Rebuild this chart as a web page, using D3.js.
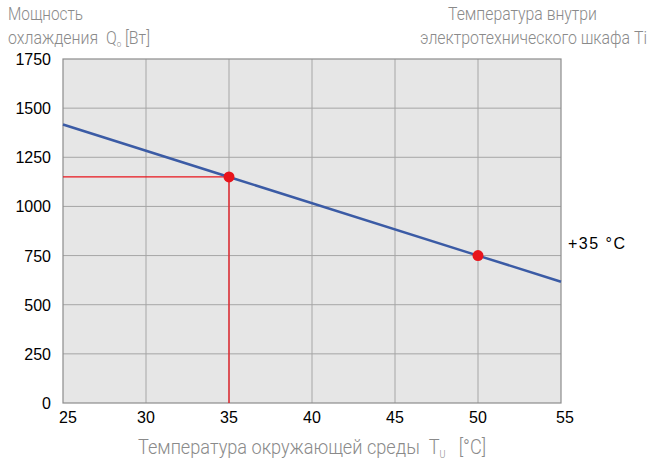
<!DOCTYPE html>
<html><head><meta charset="utf-8">
<script src="https://cdn.jsdelivr.net/npm/d3@7"></script>
<style>body{margin:0;background:#fff}svg{display:block}text{white-space:pre}</style>
</head><body>
<script>
const temps = [25, 35, 50, 55];
const power = [1417, 1150, 750, 617];
const markedT = [35, 50];
const markedP = [1150, 750];
const xTicks = [25, 30, 35, 40, 45, 50, 55];
const yTicks = [0, 250, 500, 750, 1000, 1250, 1500, 1750];
const seriesLabel = "+35 °C";

const W = 650, H = 466;
const m = {l: 63, r: 561, t: 59, b: 403};
const svg = d3.select("body").append("svg").attr("width", W).attr("height", H);
const x = d3.scaleLinear().domain([25, 55]).range([m.l, m.r]);
const y = d3.scaleLinear().domain([0, 1750]).range([m.b, m.t]);
const narrow = "Roboto,'Liberation Sans Narrow',sans-serif";
const reg = "'Liberation Sans',Arial,sans-serif";

svg.append("rect").attr("x", m.l).attr("y", m.t).attr("width", m.r - m.l).attr("height", m.b - m.t).attr("fill", "#e6e6e6");
svg.append("g").selectAll("line").data(xTicks.slice(1, -1)).join("line")
  .attr("x1", d => x(d)).attr("x2", d => x(d)).attr("y1", m.t).attr("y2", m.b)
  .attr("stroke", "#a6a6a6").attr("stroke-width", 1);
svg.append("g").selectAll("line").data(yTicks.slice(1, -1)).join("line")
  .attr("y1", d => y(d)).attr("y2", d => y(d)).attr("x1", m.l).attr("x2", m.r)
  .attr("stroke", "#a6a6a6").attr("stroke-width", 1);
svg.append("rect").attr("x", m.l).attr("y", m.t).attr("width", m.r - m.l).attr("height", m.b - m.t)
  .attr("fill", "none").attr("stroke", "#8c8c8c").attr("stroke-width", 1.2);

svg.append("g").selectAll("text").data(yTicks).join("text")
  .attr("x", 51).attr("y", d => y(d) + 6).attr("text-anchor", "end")
  .attr("font-family", reg).attr("font-size", 16).attr("fill", "#000").text(d => d);
svg.append("g").selectAll("text").data(xTicks).join("text")
  .attr("x", d => x(d) + (d === 25 ? 5 : d === 55 ? 4 : 0)).attr("y", 423).attr("text-anchor", "middle")
  .attr("font-family", reg).attr("font-size", 16).attr("fill", "#000").text(d => d);

svg.append("line").attr("x1", x(25)).attr("x2", x(markedT[0])).attr("y1", y(markedP[0])).attr("y2", y(markedP[0]))
  .attr("stroke", "#e8141c").attr("stroke-width", 1.3);
svg.append("line").attr("x1", x(markedT[0])).attr("x2", x(markedT[0])).attr("y1", y(markedP[0])).attr("y2", y(0))
  .attr("stroke", "#e8141c").attr("stroke-width", 1.3);

const line = d3.line().x((d, i) => x(temps[i])).y((d, i) => y(power[i]));
svg.append("path").attr("d", line(temps)).attr("fill", "none").attr("stroke", "#3b5ba5").attr("stroke-width", 2.5);

svg.append("g").selectAll("circle").data(markedT).join("circle")
  .attr("cx", d => x(d)).attr("cy", (d, i) => y(markedP[i])).attr("r", 5.5).attr("fill", "#e8141c");

svg.append("text").attr("x", 568).attr("y", 249).attr("font-family", reg).attr("font-size", 16).attr("fill", "#000")
  .attr("textLength", 57).attr("lengthAdjust", "spacing").text(seriesLabel);

const g1 = svg.append("g").attr("font-family", narrow).attr("font-size", 18).attr("font-weight", 300).attr("fill", "#8a8a8a");
const fit = (sel, len) => sel.attr("textLength", len).attr("lengthAdjust", "spacingAndGlyphs");
fit(g1.append("text").attr("x", 8).attr("y", 20), 75).text("Мощность");
const t2 = fit(g1.append("text").attr("x", 8).attr("y", 44), 142);
t2.append("tspan").text("охлаждения  Q");
t2.append("tspan").attr("font-size", 9).attr("dy", 3).text("o");
t2.append("tspan").attr("dy", -3).text(" [Вт]");
fit(g1.append("text").attr("x", 448).attr("y", 20), 149).text("Температура внутри");
fit(g1.append("text").attr("x", 420).attr("y", 44), 227).text("электротехнического шкафа Ti");
const t3 = fit(g1.append("text").attr("x", 138).attr("y", 454).attr("font-size", 20), 348);
t3.append("tspan").text("Температура окружающей среды  T");
t3.append("tspan").attr("font-size", 10).attr("dy", 4).text("U");
t3.append("tspan").attr("dy", -4).text("   [°C]");
</script>
</body></html>
